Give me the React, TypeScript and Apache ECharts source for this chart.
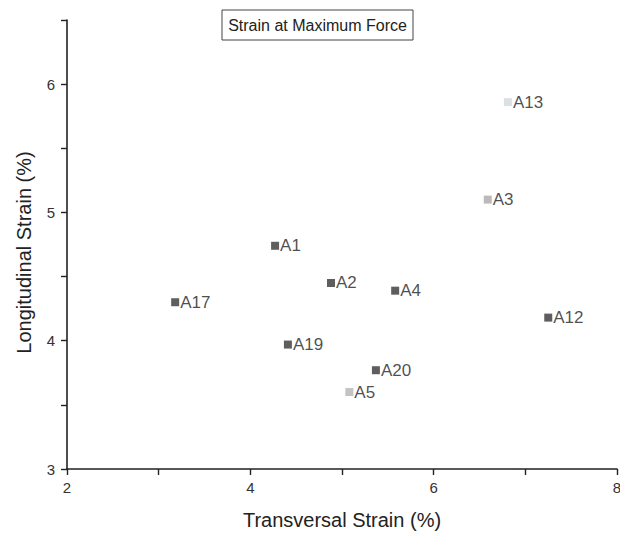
import React, { useEffect, useRef } from "react";
import * as echarts from "echarts";

const sampleNames = ["A1", "A2", "A3", "A4", "A5", "A12", "A13", "A17", "A19", "A20"];
const transversalStrain = [4.27, 4.88, 6.59, 5.58, 5.08, 7.25, 6.81, 3.18, 4.41, 5.37];
const longitudinalStrain = [4.74, 4.45, 5.1, 4.39, 3.6, 4.18, 5.86, 4.3, 3.97, 3.77];
const xTickLabels = ["2", "4", "6", "8"];
const yTickLabels = ["3", "4", "5", "6"];

const chartTitle = "Strain at Maximum Force";
const xName = "Transversal Strain (%)";
const yName = "Longitudinal Strain (%)";

const shadeOf: Record<string, string> = {
  A3: "#a9a9a9",
  A5: "#b4b4b4",
  A13: "#d2d9dc",
};
const darkShade = "#363636";

export default function App() {
  const ref = useRef<HTMLDivElement>(null);
  useEffect(() => {
    if (!ref.current) return;
    const chart = echarts.init(ref.current, null, { renderer: "svg" });
    const font = "Liberation Sans, Arial, sans-serif";
    const data = sampleNames.map((n, i) => ({
      name: n,
      value: [transversalStrain[i], longitudinalStrain[i]],
      itemStyle: { color: shadeOf[n] || darkShade },
    }));
    chart.setOption({
      animation: false,
      backgroundColor: "#ffffff",
      grid: {
        left: 67,
        right: 3,
        top: 20,
        bottom: 64,
        containLabel: false,
        outerBoundsMode: "none",
      },
      xAxis: {
        type: "value",
        min: 2,
        max: 8,
        interval: 1,
        name: xName,
        nameLocation: "middle",
        nameGap: 41,
        nameTextStyle: { fontFamily: font, fontSize: 20, color: "#222" },
        axisLine: { show: true, onZero: false, lineStyle: { color: "#222", width: 1.6 } },
        axisTick: { show: true, inside: false, length: 6, lineStyle: { color: "#222", width: 1.4 } },
        axisLabel: {
          fontFamily: font,
          fontSize: 15,
          color: "#333",
          margin: 11,
          formatter: (v: number) => (xTickLabels.includes(String(v)) ? String(v) : ""),
        },
        splitLine: { show: false },
      },
      yAxis: {
        type: "value",
        min: 3,
        max: 6.5,
        interval: 0.5,
        name: yName,
        nameLocation: "middle",
        nameGap: 33,
        nameTextStyle: { fontFamily: font, fontSize: 20, color: "#222", padding: [0, 16, 0, 0] },
        axisLine: { show: true, onZero: false, lineStyle: { color: "#222", width: 1.6 } },
        axisTick: { show: true, inside: false, length: 6, lineStyle: { color: "#222", width: 1.4 } },
        axisLabel: {
          fontFamily: font,
          fontSize: 15,
          color: "#333",
          margin: 12,
          formatter: (v: number) => (yTickLabels.includes(String(v)) ? String(v) : ""),
        },
        splitLine: { show: false },
      },
      graphic: [
        {
          type: "rect",
          shape: { x: 222, y: 10, width: 191, height: 30 },
          style: { fill: "#fff", stroke: "#444", lineWidth: 1 },
        },
        {
          type: "text",
          x: 317.5,
          y: 25,
          style: {
            text: chartTitle,
            fontFamily: font,
            fontSize: 16,
            fill: "#222",
            align: "center",
            verticalAlign: "middle",
          },
        },
      ],
      series: [
        {
          type: "scatter",
          symbol: "rect",
          symbolSize: 8,
          data,
          label: {
            show: true,
            position: "right",
            distance: 1,
            formatter: (p: any) => p.name,
            fontFamily: font,
            fontSize: 17,
            color: "#1e1e1e",
          },
        },
      ],
    });
    return () => chart.dispose();
  }, []);
  return (
    <div
      ref={ref}
      style={{ position: "absolute", left: 0, top: 0, width: 620, height: 533, background: "#fff" }}
    />
  );
}
